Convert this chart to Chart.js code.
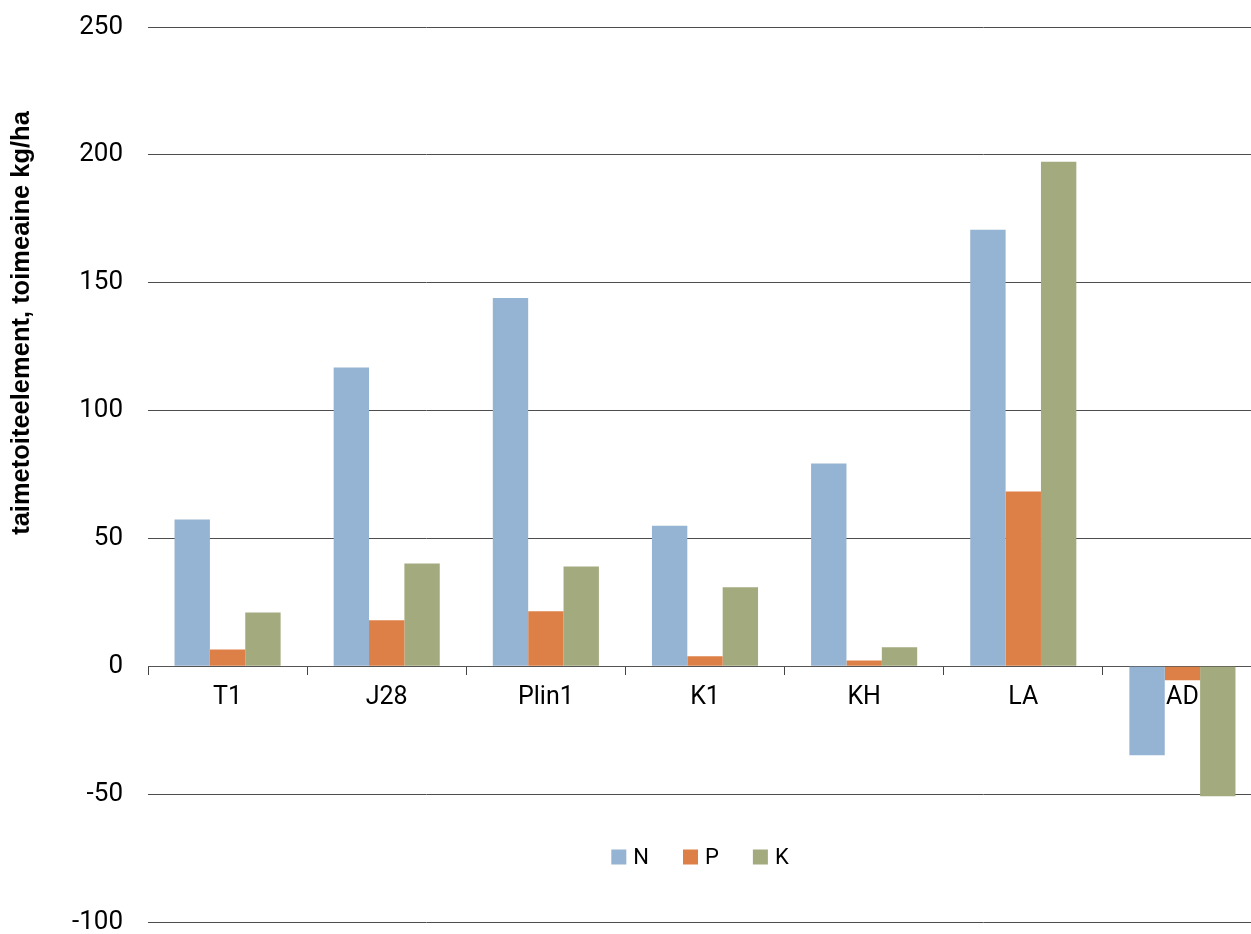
<!DOCTYPE html>
<html>
<head>
<meta charset="utf-8">
<script src="https://cdn.jsdelivr.net/npm/chart.js@4.4.0/dist/chart.umd.min.js"></script>
<style>
  html, body { margin: 0; padding: 0; background: #fff; overflow: hidden; }
  #wrap { width: 1264px; height: 934px; position: relative; }
</style>
</head>
<body>
<div id="wrap"><canvas id="chart"></canvas></div>
<script>
// Data
const categories = ['T1', 'J28', 'Plin1', 'K1', 'KH', 'LA', 'AD'];
const nValues = [57.4, 116.8, 144, 55, 79.3, 170.7, -34.8];
const pValues = [6.6, 18, 21.5, 3.9, 2.3, 68.4, -5.5];
const kValues = [21, 40.2, 39, 30.9, 7.4, 197.3, -50.8];
const yTicks = [-100, -50, 0, 50, 100, 150, 200, 250];
const yTitle = 'taimetoiteelement, toimeaine kg/ha';

const FONT = 'Roboto, "Liberation Sans", Arial, sans-serif';

// Legend drawn inside the plot area, like the original
const innerLegend = {
    id: 'innerLegend',
    afterDraw(chart) {
        const ctx = chart.ctx;
        const items = chart.data.datasets;
        const box = 15, gap = 7, spacing = 34;
        ctx.save();
        ctx.font = '22px ' + FONT;
        const widths = items.map(d => box + gap + ctx.measureText(d.label).width);
        const total = widths.reduce((a, b) => a + b, 0) + spacing * (items.length - 1);
        let x = 700 - total / 2;
        const y = 857;
        items.forEach((d, i) => {
            ctx.fillStyle = d.backgroundColor;
            ctx.fillRect(x, y - box / 2, box, box);
            ctx.fillStyle = '#000';
            ctx.textBaseline = 'middle';
            ctx.fillText(d.label, x + box + gap, y + 1);
            x += widths[i] + spacing;
        });
        ctx.restore();
    }
};

// Y axis title sits higher than the plot centre in the original
const axisTitle = {
    id: 'axisTitle',
    afterDraw(chart) {
        const ctx = chart.ctx;
        ctx.save();
        ctx.translate(22, 323);
        ctx.rotate(-Math.PI / 2);
        ctx.font = 'bold 25.5px "Liberation Sans", Arial, sans-serif';
        ctx.fillStyle = '#000';
        ctx.textAlign = 'center';
        ctx.textBaseline = 'middle';
        ctx.fillText(yTitle, 0, 0);
        ctx.restore();
    }
};

const ctx = document.getElementById('chart').getContext('2d');
new Chart(ctx, {
    type: 'bar',
    data: {
        labels: categories,
        datasets: [
            { label: 'N', data: nValues, backgroundColor: '#95b3d2' },
            { label: 'P', data: pValues, backgroundColor: '#dd8047' },
            { label: 'K', data: kValues, backgroundColor: '#a3aa7e' }
        ]
    },
    options: {
        responsive: true,
        maintainAspectRatio: false,
        animation: false,
        layout: { padding: { left: 0, top: 27, right: 2, bottom: 12 } },
        datasets: {
            bar: { categoryPercentage: 0.6667, barPercentage: 1, borderWidth: 0 }
        },
        plugins: {
            legend: { display: false },
            tooltip: { enabled: false }
        },
        scales: {
            x: {
                position: { y: 0 },
                grid: {
                    drawOnChartArea: false,
                    drawTicks: true,
                    tickLength: 8,
                    color: '#444'
                },
                border: { display: true, color: '#555', width: 1 },
                ticks: {
                    color: '#000',
                    padding: 8,
                    font: { family: FONT, size: 25 }
                }
            },
            y: {
                min: -100,
                max: 250,
                afterBuildTicks: scale => {
                    scale.ticks = yTicks.map(v => ({ value: v }));
                },
                afterFit: scale => {
                    scale.width = 148;
                    scale.paddingTop = 0;
                    scale.paddingBottom = 0;
                },
                grid: {
                    drawTicks: false,
                    color: '#4d4d4d'
                },
                border: { display: false },
                ticks: {
                    color: '#000',
                    padding: 25,
                    font: { family: FONT, size: 26 }
                }
            }
        }
    },
    plugins: [innerLegend, axisTitle]
});
</script>
</body>
</html>
